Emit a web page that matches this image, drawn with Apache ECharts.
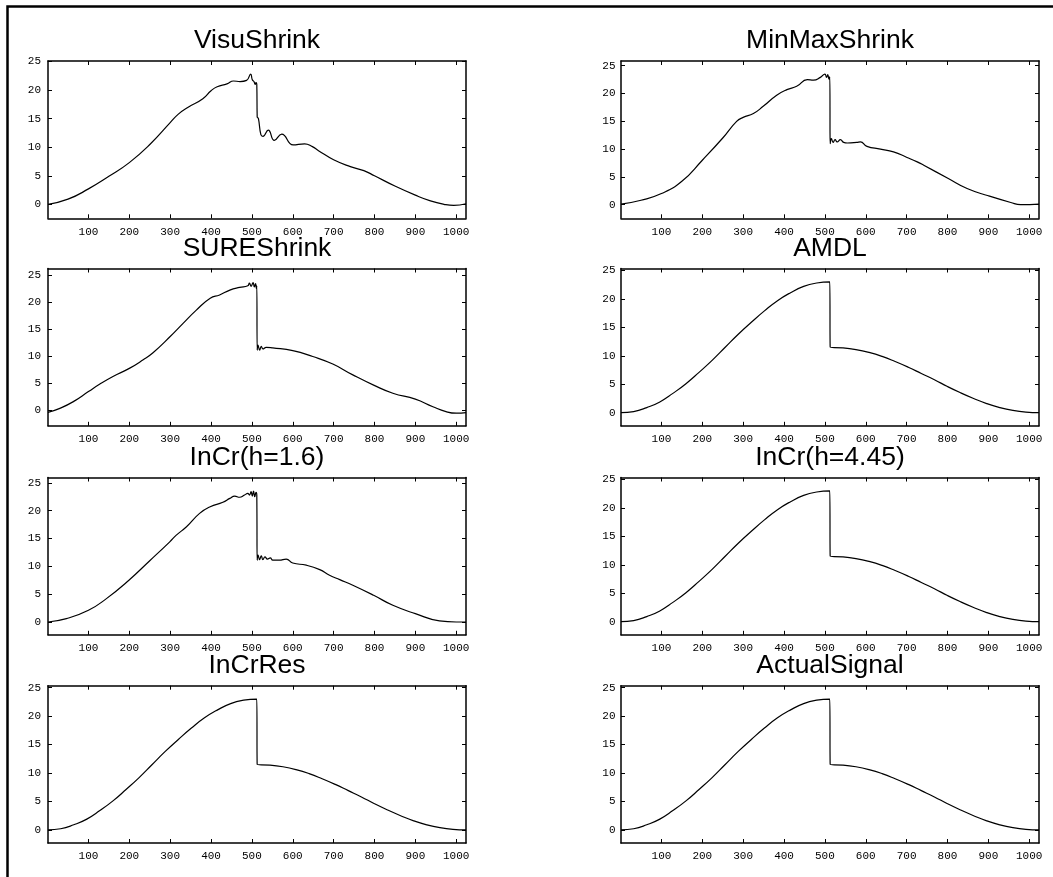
<!DOCTYPE html>
<html>
<head>
<meta charset="utf-8">
<title>Denoising comparison</title>
<script src="https://cdn.jsdelivr.net/npm/echarts@6/dist/echarts.min.js"></script>
<style>
  html, body { margin: 0; padding: 0; background: #fff; }
  #main { width: 1053px; height: 877px; }
</style>
</head>
<body>
<div id="main"></div>
<script>
// tick labels
const xTicks = [100, 200, 300, 400, 500, 600, 700, 800, 900, 1000];
const yTicks = [0, 5, 10, 15, 20, 25];

// panel titles, row by row
const titles = ['VisuShrink', 'MinMaxShrink', 'SUREShrink', 'AMDL',
                'InCr(h=1.6)', 'InCr(h=4.45)', 'InCrRes', 'ActualSignal'];

// VisuShrink
const visuX = [1, 50, 100, 150, 200, 252, 300, 320, 344, 380, 400, 415, 439, 455, 471, 487, 497, 501, 505, 508, 510, 512,
               513, 516, 522, 527, 540, 555, 573, 601, 629, 648, 663, 700, 741, 774, 800, 850, 900, 937, 970, 994, 1024];
const visuY = [0.0, 0.9, 2.7, 4.9, 7.3, 10.6, 14.3, 15.8, 17.0, 18.5, 19.9, 20.6, 21.1, 21.6, 21.5, 21.7, 22.8, 21.8, 21.5, 21.0, 21.3, 21.0,
               15.3, 15.0, 12.2, 11.9, 13.0, 11.2, 12.3, 10.4, 10.6, 10.1, 9.4, 7.8, 6.6, 5.9, 5.0, 3.2, 1.6, 0.6, 0.0, -0.2, 0.1];

// MinMaxShrink
const minmaxX = [1, 50, 100, 150, 200, 250, 284, 300, 325, 349, 382, 407, 431, 457, 472, 489, 500, 504, 507, 510, 512,
                 513, 516, 520, 525, 530, 538, 546, 555, 578, 587, 603, 636, 668, 701, 726, 742, 802, 848, 900, 955, 979, 1024];
const minmaxY = [0.1, 0.8, 2.0, 4.2, 8.0, 12.0, 15.0, 15.7, 16.4, 17.7, 19.7, 20.7, 21.3, 22.5, 22.4, 22.9, 23.5, 22.9, 23.4, 22.6, 23.0,
                 11.0, 11.9, 11.2, 11.7, 11.3, 11.7, 11.2, 11.1, 11.2, 11.3, 10.5, 10.0, 9.5, 8.5, 7.7, 7.1, 4.7, 2.9, 1.6, 0.4, 0.0, 0.1];

// SUREShrink
const sureX = [1, 30, 62, 100, 128, 160, 200, 234, 258, 300, 331, 364, 398, 421, 446, 470, 490, 494, 498, 503, 506, 509, 511, 512,
               513, 515, 519, 523, 527, 535, 551, 600, 649, 698, 747, 798, 845, 900, 943, 975, 1000, 1024];
const sureY = [-0.45, 0.3, 1.5, 3.4, 4.8, 6.2, 7.7, 9.3, 10.6, 13.6, 16.0, 18.5, 20.7, 21.3, 22.2, 22.7, 23.0, 23.5, 22.9, 23.6, 22.8, 23.4, 22.5, 23.0,
               11.1, 12.0, 11.1, 11.8, 11.3, 11.6, 11.5, 11.0, 9.9, 8.5, 6.5, 4.6, 3.1, 2.0, 0.6, -0.3, -0.6, -0.5];

// InCr(h=1.6)
const incr16X = [1, 46, 100, 144, 199, 250, 299, 315, 340, 372, 398, 429, 446, 458, 470, 482, 490, 494, 498, 501, 504, 507, 510, 512,
                 513, 515, 519, 523, 527, 532, 538, 545, 551, 567, 584, 600, 633, 666, 690, 715, 747, 798, 845, 900, 959, 1000, 1024];
const incr16Y = [0.0, 0.6, 2.1, 4.2, 7.5, 11.0, 14.4, 15.6, 17.1, 19.5, 20.7, 21.5, 22.2, 22.6, 22.4, 22.8, 23.1, 22.8, 23.4, 22.6, 23.5, 22.5, 23.3, 22.8,
                 11.1, 12.0, 11.2, 11.9, 11.2, 11.7, 11.3, 11.5, 11.1, 11.1, 11.3, 10.6, 10.2, 9.4, 8.4, 7.6, 6.6, 4.8, 3.0, 1.5, 0.2, 0.0, 0.0];

// the clean-looking panels share these sample positions
const cleanX = [1, 32, 64, 96, 128, 160, 192, 224, 256, 288, 320, 352, 384, 416, 448, 480, 512,
                513, 544, 576, 608, 640, 672, 704, 736, 768, 800, 832, 864, 896, 928, 960, 992, 1024];
const amdlY = [0.0, 0.2, 0.9, 1.9, 3.4, 5.1, 7.1, 9.2, 11.5, 13.8, 15.9, 17.9, 19.7, 21.1, 22.2, 22.8, 23.0,
               11.5, 11.4, 11.1, 10.6, 9.9, 9.0, 8.0, 6.9, 5.8, 4.6, 3.5, 2.5, 1.6, 0.9, 0.4, 0.1, 0.0];
const incr445Y = [0.0, 0.2, 0.9, 1.9, 3.4, 5.1, 7.1, 9.2, 11.5, 13.8, 15.9, 17.9, 19.7, 21.1, 22.2, 22.8, 23.0,
                  11.5, 11.4, 11.1, 10.6, 9.9, 9.0, 8.0, 6.9, 5.8, 4.6, 3.5, 2.5, 1.6, 0.9, 0.4, 0.1, 0.0];
const incrResY = [0.0, 0.2, 0.9, 1.9, 3.4, 5.1, 7.1, 9.2, 11.5, 13.8, 15.9, 17.9, 19.7, 21.1, 22.2, 22.8, 23.0,
                  11.5, 11.4, 11.1, 10.6, 9.9, 9.0, 8.0, 6.9, 5.8, 4.6, 3.5, 2.5, 1.6, 0.9, 0.4, 0.1, 0.0];
const actualY = [0.0, 0.2, 0.9, 1.9, 3.4, 5.1, 7.1, 9.2, 11.5, 13.8, 15.9, 17.9, 19.7, 21.1, 22.2, 22.8, 23.0,
                 11.5, 11.4, 11.1, 10.6, 9.9, 9.0, 8.0, 6.9, 5.8, 4.6, 3.5, 2.5, 1.6, 0.9, 0.4, 0.1, 0.0];

// y limits of each panel (data range plus 10%)
const yMins = [-2.45, -2.45, -2.93, -2.3, -2.3, -2.3, -2.3, -2.3];
const yMaxs = [25.1, 25.85, 26.2, 25.35, 25.95, 25.35, 25.35, 25.35];

const panelX = [visuX, minmaxX, sureX, cleanX, incr16X, cleanX, cleanX, cleanX];
const panelY = [visuY, minmaxY, sureY, amdlY, incr16Y, incr445Y, incrResY, actualY];

// layout of the 4x2 grid (px)
const colLeft = [48, 621];
const rowTop = [61, 268.5, 477.5, 685.7];
const plotW = 418;
const plotH = 157.3;

const tickFont = { fontFamily: 'Liberation Mono', fontSize: 11, color: '#000' };
const black = { color: '#000', width: 1.5 };

var myChart = echarts.init(document.getElementById('main'));

var grids = [], xAxes = [], yAxes = [], series = [];
var graphics = [{
  type: 'rect', silent: true,
  shape: { x: 7.5, y: 6.5, width: 1200, height: 1000 },
  style: { fill: 'none', stroke: '#000', lineWidth: 2.5 }
}];

titles.forEach((name, i) => {
  const col = i % 2, row = Math.floor(i / 2);
  grids.push({ left: colLeft[col], top: rowTop[row], width: plotW, height: plotH, containLabel: false });

  // bottom + mirrored top x axis
  ['bottom', 'top'].forEach(pos => {
    xAxes.push({
      type: 'value', gridIndex: i, position: pos, min: 1, max: 1024,
      axisLine: { show: true, onZero: false, lineStyle: black },
      axisTick: { show: true, inside: true, length: 4, customValues: xTicks, lineStyle: { color: '#000', width: 1 } },
      axisLabel: Object.assign({ show: pos === 'bottom', customValues: xTicks, margin: 8, formatter: v => String(v) }, tickFont),
      splitLine: { show: false }
    });
  });
  // left + mirrored right y axis
  ['left', 'right'].forEach(pos => {
    yAxes.push({
      type: 'value', gridIndex: i, position: pos, min: yMins[i], max: yMaxs[i],
      axisLine: { show: true, onZero: false, lineStyle: black },
      axisTick: { show: true, inside: true, length: 4, customValues: yTicks, lineStyle: { color: '#000', width: 1 } },
      axisLabel: Object.assign({ show: pos === 'left', customValues: yTicks, margin: col === 0 ? 7 : 5.5, formatter: v => String(v) }, tickFont),
      splitLine: { show: false }
    });
  });

  series.push({
    type: 'line', xAxisIndex: 2 * i, yAxisIndex: 2 * i,
    data: panelX[i].map((x, k) => [x, panelY[i][k]]),
    showSymbol: false, smooth: 0.5, silent: true,
    lineStyle: { color: '#000', width: 1.2 }
  });

  graphics.push({
    type: 'text', silent: true,
    x: colLeft[col] + plotW / 2, y: rowTop[row] - 20,
    style: { text: name, fill: '#000', font: '26.5px "Liberation Sans", Arial, sans-serif', align: 'center', verticalAlign: 'middle' }
  });
});

var option = {
  animation: false,
  backgroundColor: '#fff',
  grid: grids,
  xAxis: xAxes,
  yAxis: yAxes,
  series: series,
  graphic: graphics
};
myChart.setOption(option);
</script>
</body>
</html>
